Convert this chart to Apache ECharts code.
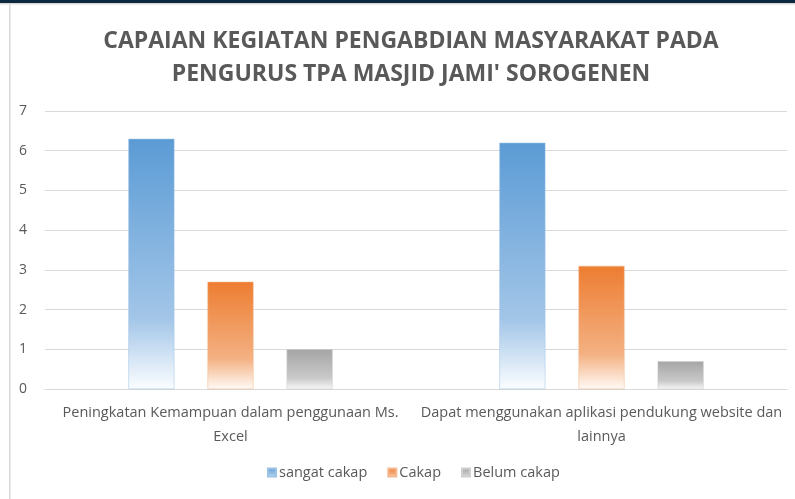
<!DOCTYPE html>
<html><head><meta charset="utf-8">
<script src="https://cdn.jsdelivr.net/npm/echarts@6/dist/echarts.min.js"></script>
<style>html,body{margin:0;padding:0;background:#fff}#c{width:795px;height:499px}</style>
</head><body><div id="c"></div>
<script>
const categories = ["Peningkatan Kemampuan dalam penggunaan Ms.\nExcel", "Dapat menggunakan aplikasi pendukung website dan\nlainnya"];
const seriesNames = ["sangat cakap", "Cakap", "Belum cakap"];
const sangatCakap = [6.3, 6.2];
const cakap = [2.7, 3.1];
const belumCakap = [1, 0.7];
const yTicks = [0, 1, 2, 3, 4, 5, 6, 7];

const baseColors = ["#5B9BD5", "#ED7D31", "#A5A5A5"];
const midColors = ["#A3C6E8", "#F4B183", "#C9C9C9"];
const endColors = ["#FBFDFF", "#FFFAF6", "#F7F7F7"];
const borderColors = ["#9CC3E6", "#F5B88F", "#CFCFCF"];
const values = [sangatCakap, cakap, belumCakap];

function grad(i) {
  return new echarts.graphic.LinearGradient(0, 0, 0, 1, [
    {offset: 0, color: baseColors[i]},
    {offset: 0.72, color: midColors[i]},
    {offset: 1, color: endColors[i]}
  ]);
}

const chart = echarts.init(document.getElementById('c'));
const textColor = '#595959';
chart.setOption({
  animation: false,
  backgroundColor: '#ffffff',
  title: {
    text: "CAPAIAN KEGIATAN PENGABDIAN MASYARAKAT PADA\nPENGURUS TPA MASJID JAMI' SOROGENEN",
    left: 406, top: 20, textAlign: 'center',
    textStyle: {fontFamily: 'Open Sans', fontWeight: 'bold', fontSize: 23, color: textColor, lineHeight: 33}
  },
  legend: {
    data: seriesNames,
    bottom: 14, left: 262,
    itemWidth: 8, itemHeight: 8, itemGap: 20,
    icon: 'rect',
    textStyle: {fontFamily: 'Open Sans', fontSize: 14.5, color: textColor, padding: [0,0,0,-2]}
  },
  grid: {left: 45, right: 8, top: 111, bottom: 110, containLabel: false},
  xAxis: {
    type: 'category', data: categories,
    axisLine: {lineStyle: {color: '#D9D9D9'}},
    axisTick: {show: false},
    axisLabel: {fontFamily: 'Open Sans', fontSize: 14.5, color: textColor, lineHeight: 24, margin: 12, interval: 0}
  },
  yAxis: {
    type: 'value', min: 0, max: 7, interval: 1,
    axisLabel: {fontFamily: 'Open Sans', fontSize: 14, color: textColor, margin: 18,
      formatter: v => yTicks.includes(v) ? String(v) : ''},
    splitLine: {lineStyle: {color: '#D9D9D9'}},
    axisLine: {show: false}, axisTick: {show: false}
  },
  graphic: [
    {type: 'rect', shape: {x: 0, y: 0, width: 795, height: 3}, style: {fill: '#0E2841'}, z: 100},
    {type: 'rect', shape: {x: 0, y: 3, width: 795, height: 1.5}, style: {fill: '#D9D9D9'}, z: 100},
    {type: 'rect', shape: {x: 9, y: 4, width: 1.5, height: 495}, style: {fill: '#D9D9D9'}, z: 100}
  ],
  series: seriesNames.map((n, i) => ({
    name: n, type: 'bar', data: values[i],
    barWidth: 46, barGap: '72%',
    itemStyle: {color: grad(i), borderColor: borderColors[i], borderWidth: 0.5}
  }))
});
</script></body></html>
